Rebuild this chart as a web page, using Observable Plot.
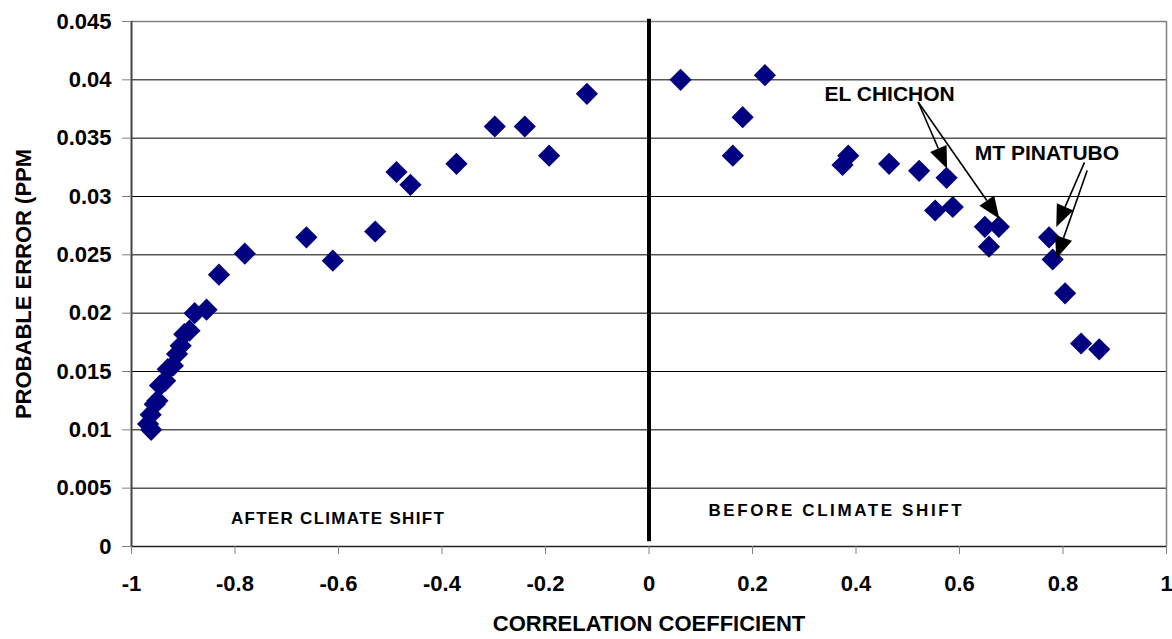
<!DOCTYPE html>
<html>
<head>
<meta charset="utf-8">
<script src="https://cdn.jsdelivr.net/npm/d3@7"></script>
<script src="https://cdn.jsdelivr.net/npm/@observablehq/plot@0.6"></script>
<style>
  html, body { margin: 0; padding: 0; background: #fff; }
</style>
</head>
<body>
<div id="chart"></div>
<script>
// After climate shift (negative correlation)
const afterX = [-0.968, -0.962, -0.963, -0.955, -0.950, -0.945, -0.935, -0.930, -0.920, -0.912, -0.905, -0.898, -0.888, -0.878, -0.855, -0.831, -0.781, -0.662, -0.611, -0.529, -0.488, -0.461, -0.372, -0.298, -0.240, -0.193, -0.120];
const afterY = [0.0105, 0.0100, 0.0113, 0.0122, 0.0125, 0.0138, 0.0142, 0.0152, 0.0155, 0.0165, 0.0172, 0.0182, 0.0185, 0.0200, 0.0203, 0.0233, 0.0251, 0.0265, 0.0245, 0.0270, 0.0321, 0.0310, 0.0328, 0.0360, 0.0360, 0.0335, 0.0388];
// Before climate shift (positive correlation)
const beforeX = [0.061, 0.224, 0.181, 0.162, 0.385, 0.374, 0.464, 0.522, 0.575, 0.553, 0.587, 0.649, 0.676, 0.657, 0.773, 0.780, 0.804, 0.835, 0.870];
const beforeY = [0.0400, 0.0404, 0.0368, 0.0335, 0.0335, 0.0327, 0.0328, 0.0322, 0.0316, 0.0288, 0.0291, 0.0274, 0.0274, 0.0257, 0.0265, 0.0246, 0.0217, 0.0174, 0.0169];

const xTicks = [-1, -0.8, -0.6, -0.4, -0.2, 0, 0.2, 0.4, 0.6, 0.8, 1];
const yTicks = [0, 0.005, 0.01, 0.015, 0.02, 0.025, 0.03, 0.035, 0.04, 0.045];

const xLabel = "CORRELATION COEFFICIENT";
const yLabel = "PROBABLE ERROR (PPM";

const regionText = ["AFTER CLIMATE SHIFT", "BEFORE CLIMATE SHIFT"];
const regionX = [-0.601, 0.362];
const regionY = [0.0024, 0.0031];

const noteText = ["EL CHICHON", "MT PINATUBO"];
const noteX = [0.465, 0.769];
const noteY = [0.0388, 0.0337];

// arrows: from label toward volcanic-year points
const arrowX1 = [0.521, 0.521, 0.8425, 0.8477];
const arrowY1 = [0.03806, 0.03806, 0.03288, 0.03219];
const arrowX2 = [0.577, 0.678, 0.788, 0.788];
const arrowY2 = [0.03234, 0.02806, 0.02734, 0.02463];

const points = [
  ...afterX.map((x, i) => ({x, y: afterY[i]})),
  ...beforeX.map((x, i) => ({x, y: beforeY[i]}))
];
const regions = regionText.map((t, i) => ({t, x: regionX[i], y: regionY[i]}));
const notes = noteText.map((t, i) => ({t, x: noteX[i], y: noteY[i]}));
const arrows = arrowX1.map((x1, i) => ({x1, y1: arrowY1[i], x2: arrowX2[i], y2: arrowY2[i]}));

function arrowMark(data) {
  return (index, scales) => {
    const g = d3.create("svg:g");
    for (const a of data) {
      const x1 = scales.x(a.x1), y1 = scales.y(a.y1);
      const x2 = scales.x(a.x2), y2 = scales.y(a.y2);
      const ang = Math.atan2(y2 - y1, x2 - x1);
      const L = 22, W = 9;
      const bx = x2 - L * Math.cos(ang), by = y2 - L * Math.sin(ang);
      g.append("line")
        .attr("x1", x1).attr("y1", y1).attr("x2", bx).attr("y2", by)
        .attr("stroke", "black").attr("stroke-width", 1.6);
      g.append("path")
        .attr("d", `M${x2},${y2}L${bx + W * Math.sin(ang)},${by - W * Math.cos(ang)}L${bx - W * Math.sin(ang)},${by + W * Math.cos(ang)}Z`)
        .attr("fill", "black");
    }
    return g.node();
  };
}

const fmt = d => String(+d.toFixed(3));

const chart = Plot.plot({
  width: 1172,
  height: 639,
  marginLeft: 131,
  marginRight: 6,
  marginTop: 21,
  marginBottom: 93,
  style: {
    fontFamily: "'Liberation Sans', Arial, sans-serif",
    fontSize: "22px",
    fontWeight: "bold",
    background: "white",
    color: "black"
  },
  x: {domain: [-1, 1], label: null},
  y: {domain: [0, 0.045], label: null},
  marks: [
    Plot.ruleY(yTicks.slice(1, -1), {stroke: "black", strokeWidth: 1, strokeOpacity: 1}),
    Plot.ruleY([0.045], {stroke: "#808080", strokeWidth: 1.5}),
    Plot.ruleX([1], {stroke: "#808080", strokeWidth: 1.5}),
    Plot.ruleX([-1], {stroke: "#444", strokeWidth: 2}),
    Plot.ruleY([0], {stroke: "#222", strokeWidth: 1.5}),
    Plot.ruleX([0], {y1: 0.0004, y2: 0.0452, stroke: "black", strokeWidth: 4}),
    Plot.axisY({ticks: yTicks, tickFormat: fmt, tickSize: 9, tickPadding: 11, stroke: "#808080", fill: "black", label: null, fontSize: 22}),
    Plot.axisX({ticks: xTicks, tickFormat: fmt, tickSize: 8, tickPadding: 21, stroke: "#808080", fill: "black", label: null, fontSize: 22}),
    Plot.dot(points, {x: "x", y: "y", symbol: "diamond2", r: 10, fill: "#000080", stroke: "none"}),
    Plot.text(regions, {x: "x", y: "y", text: "t", fontSize: 17, fill: "black"}),
    Plot.text(notes, {x: "x", y: "y", text: "t", fontSize: 21, fill: "black"}),
    arrowMark(arrows),
    Plot.text([xLabel], {frameAnchor: "bottom", dy: 84, text: d => d, fontSize: 22, fill: "black"}),
    Plot.text([yLabel], {frameAnchor: "left", dx: -108, rotate: -90, textAnchor: "middle", text: d => d, fontSize: 22, fill: "black"})
  ]
});
// wider letter spacing for the two region captions, as in the original
const spacing = {"AFTER CLIMATE SHIFT": "1.3px", "BEFORE CLIMATE SHIFT": "2.6px"};
d3.select(chart).selectAll("text")
  .filter(function () { return this.textContent in spacing; })
  .style("letter-spacing", function () { return spacing[this.textContent]; });
document.getElementById("chart").append(chart);
</script>
</body>
</html>
